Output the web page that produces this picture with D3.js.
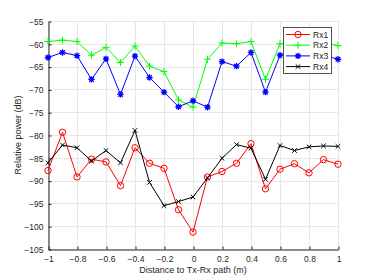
<!DOCTYPE html>
<html><head><meta charset="utf-8">
<script src="https://cdn.jsdelivr.net/npm/d3@7"></script>
<style>
body{margin:0;background:#fff;}
text{font-family:"Liberation Sans",Arial,Helvetica,sans-serif;}
</style></head>
<body><svg id="c" width="374" height="280"></svg>
<script>
const distances = [-1,-0.9,-0.8,-0.7,-0.6,-0.5,-0.4,-0.3,-0.2,-0.1,0,0.1,0.2,0.3,0.4,0.5,0.6,0.7,0.8,0.9,1];
const rx1 = [-87.8,-79.4,-89.2,-85.3,-85.9,-91.1,-82.8,-86.2,-87.3,-96.4,-101.3,-89.2,-88.0,-86.2,-81.9,-91.8,-87.5,-86.3,-88.3,-85.4,-86.4];
const rx2 = [-59.5,-59.2,-59.5,-62.5,-60.8,-64.1,-60.5,-64.9,-66.1,-72.3,-73.9,-63.4,-59.8,-60.0,-59.5,-67.8,-60.0,-59.8,-59.6,-59.8,-60.4];
const rx3 = [-63.0,-61.9,-62.6,-67.8,-63.3,-71.1,-62.7,-67.4,-70.6,-73.8,-72.5,-73.9,-63.9,-64.9,-61.9,-70.6,-62.5,-62.3,-62.0,-62.5,-63.4];
const rx4 = [-86.1,-82.2,-82.8,-85.7,-83.4,-86.1,-79.0,-90.4,-95.5,-94.6,-93.6,-89.4,-85.1,-82.1,-82.9,-89.7,-82.3,-83.4,-82.6,-82.4,-82.5];
const seriesNames = ["Rx1","Rx2","Rx3","Rx4"];
const xTicks = [-1,-0.8,-0.6,-0.4,-0.2,0,0.2,0.4,0.6,0.8,1];
const yTicks = [-105,-100,-95,-90,-85,-80,-75,-70,-65,-60,-55];

const series = [
  {name:seriesNames[0], values:rx1, color:"#ff0000", marker:"o"},
  {name:seriesNames[1], values:rx2, color:"#00ff00", marker:"+"},
  {name:seriesNames[2], values:rx3, color:"#0000ff", marker:"*"},
  {name:seriesNames[3], values:rx4, color:"#000000", marker:"x"}
];

const svg = d3.select("#c");
const x = d3.scaleLinear().domain([-1,1]).range([48,338]);
const y = d3.scaleLinear().domain([-105,-55]).range([249,21]);

// grid
const g = svg.append("g");
g.selectAll(".gx").data(xTicks).enter().append("line")
  .attr("x1",d=>x(d)+0.5).attr("x2",d=>x(d)+0.5).attr("y1",y(-55)).attr("y2",y(-105))
  .attr("stroke","#e6e6e6").attr("stroke-width",1);
g.selectAll(".gy").data(yTicks).enter().append("line")
  .attr("y1",d=>Math.round(y(d))+0.5).attr("y2",d=>Math.round(y(d))+0.5).attr("x1",x(-1)).attr("x2",x(1))
  .attr("stroke","#e6e6e6").attr("stroke-width",1);

// axes
const xAxis = d3.axisBottom(x).tickValues(xTicks).tickSizeInner(-3).tickSizeOuter(0).tickPadding(6)
  .tickFormat(d=>d3.format("")(+d.toFixed(1)));
const yAxis = d3.axisLeft(y).tickValues(yTicks).tickSizeInner(-3).tickSizeOuter(0).tickPadding(5);
const gx = svg.append("g").attr("transform","translate(0.5,"+(y(-105)+0.5)+")").call(xAxis);
const gy = svg.append("g").attr("transform","translate("+(x(-1)+0.5)+",0.5)").call(yAxis);
[gx,gy].forEach(a=>{
  a.selectAll("path,line").attr("stroke","#262626");
  a.selectAll("text").attr("fill","#262626").style("font-size","8.5px");
});

svg.append("text").attr("x",(x(-1)+x(1))/2).attr("y",273).attr("text-anchor","middle")
  .attr("fill","#262626").style("font-size","9px").text("Distance to Tx-Rx path (m)");
svg.append("text").attr("transform","translate(21,"+((y(-55)+y(-105))/2)+") rotate(-90)")
  .attr("text-anchor","middle").attr("fill","#262626").style("font-size","9px").text("Relative power (dB)");

function markerPath(type){
  if(type==="+") return "M-3.5,0H3.5M0,-3.5V3.5";
  if(type==="x") return "M-2.3,-2.3L2.3,2.3M-2.3,2.3L2.3,-2.3";
  if(type==="*") return "M-3.2,0H3.2M0,-3.2V3.2M-2.3,-2.3L2.3,2.3M-2.3,2.3L2.3,-2.3";
  return null;
}
function drawMarker(sel, s){
  if(s.marker==="o"){
    sel.append("circle").attr("r",3.2).attr("fill","none").attr("stroke",s.color).attr("stroke-width",1);
  } else {
    sel.append("path").attr("d",markerPath(s.marker)).attr("stroke",s.color).attr("stroke-width",s.marker==="*"?1.3:1).attr("fill","none");
    if(s.marker==="*") sel.append("circle").attr("r",1.6).attr("fill",s.color);
  }
}

const line = d3.line().x((d,i)=>x(distances[i])).y(d=>y(d));
series.forEach(s=>{
  const sg = svg.append("g");
  sg.append("path").datum(s.values).attr("d",line).attr("fill","none").attr("stroke",s.color).attr("stroke-width",1);
  s.values.forEach((v,i)=>{
    const m = sg.append("g").attr("transform","translate("+x(distances[i])+","+y(v)+")");
    drawMarker(m,s);
  });
});

// legend
const lg = svg.append("g").attr("transform","translate(283,27)");
lg.append("rect").attr("x",0.5).attr("y",0.5).attr("width",48).attr("height",46)
  .attr("fill","#fff").attr("stroke","#262626").attr("stroke-width",0.8);
series.forEach((s,i)=>{
  const yy = 7.5 + i*10.7;
  lg.append("line").attr("x1",3).attr("x2",27).attr("y1",yy).attr("y2",yy).attr("stroke",s.color).attr("stroke-width",1);
  const m = lg.append("g").attr("transform","translate(15,"+yy+")");
  drawMarker(m,s);
  lg.append("text").attr("x",30).attr("y",yy+3).attr("fill","#262626").style("font-size","8.5px").text(s.name);
});
</script></body></html>
